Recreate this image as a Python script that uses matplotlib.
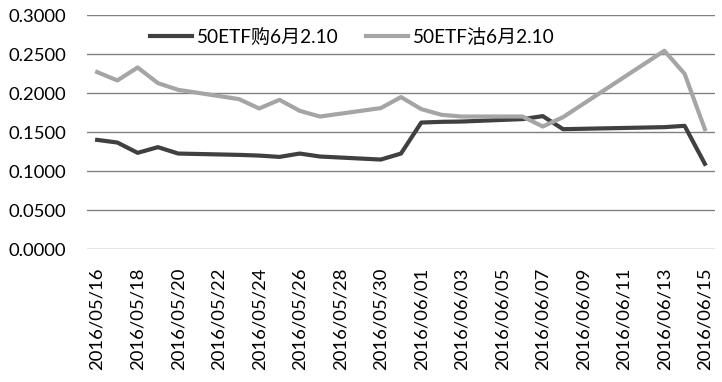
import matplotlib
matplotlib.use("Agg")
import matplotlib.pyplot as plt
import numpy as np
import pandas as pd

plt.rcParams['font.family'] = ['Lato', 'Noto Sans CJK SC', 'DejaVu Sans']

dates = ["2016/05/16", "2016/05/17", "2016/05/18", "2016/05/19", "2016/05/20",
         "2016/05/23", "2016/05/24", "2016/05/25", "2016/05/26", "2016/05/27",
         "2016/05/30", "2016/05/31", "2016/06/01", "2016/06/02", "2016/06/03",
         "2016/06/06", "2016/06/07", "2016/06/08", "2016/06/13", "2016/06/14",
         "2016/06/15"]
call_vals = [0.1401, 0.1367, 0.1235, 0.1308, 0.1226,
             0.1209, 0.1200, 0.1183, 0.1226, 0.1188,
             0.1149, 0.1226, 0.1623, 0.1632, 0.1636,
             0.1667, 0.1705, 0.1538, 0.1564, 0.1581,
             0.1094]
put_vals = [0.2269, 0.2162, 0.2328, 0.2128, 0.2042,
            0.1923, 0.1803, 0.1914, 0.1773, 0.1700,
            0.1808, 0.1949, 0.1795, 0.1722, 0.1700,
            0.1700, 0.1572, 0.1692, 0.2542, 0.2247,
            0.1538]
call_name = "50ETF购6月2.10"
put_name = "50ETF沽6月2.10"
yticks = [0.0, 0.05, 0.10, 0.15, 0.20, 0.25, 0.30]

start = pd.Timestamp("2016/05/16")
end = pd.Timestamp("2016/06/15")
days = np.array([(pd.Timestamp(d) - start).days for d in dates])
ndays = (end - start).days
tick_days = np.arange(0, ndays + 1, 2)
tick_labels = [(start + pd.Timedelta(days=int(d))).strftime("%Y/%m/%d") for d in tick_days]

W, H = 722, 382
fig = plt.figure(figsize=(W / 100, H / 100), dpi=100)
ax = fig.add_axes([87 / W, 1 - 249.3 / H, (715 - 87) / W, (249.3 - 15) / H])

ax.plot(days, call_vals, color='#404040', lw=3.0, label=call_name, solid_joinstyle='round', zorder=3)
ax.plot(days, put_vals, color='#a5a5a5', lw=3.0, label=put_name, solid_joinstyle='round', zorder=3)

ax.set_xlim(-0.5, ndays + 0.5)
ax.set_ylim(0, 0.3)
ax.set_yticks(yticks)
ax.set_yticklabels([f"{v:.4f}" for v in yticks], fontsize=13.3)
ax.set_xticks(tick_days)
ax.set_xticklabels(tick_labels, rotation=90, fontsize=13.3)
ax.tick_params(axis='both', length=0)
ax.tick_params(axis='y', pad=15)
ax.tick_params(axis='x', pad=13)
ax.grid(axis='y', color='#808080', lw=1.0)
ax.set_axisbelow(True)
for s in ax.spines.values():
    s.set_visible(False)

leg = ax.legend(loc='center left', bbox_to_anchor=((150 - 87) / 628, (249.3 - 37) / 234.3),
                ncol=2, frameon=False, fontsize=13.7, handlelength=2.2, columnspacing=1.45,
                handletextpad=0.27, borderpad=0, borderaxespad=0)

fig.savefig("out.png", dpi=100)
